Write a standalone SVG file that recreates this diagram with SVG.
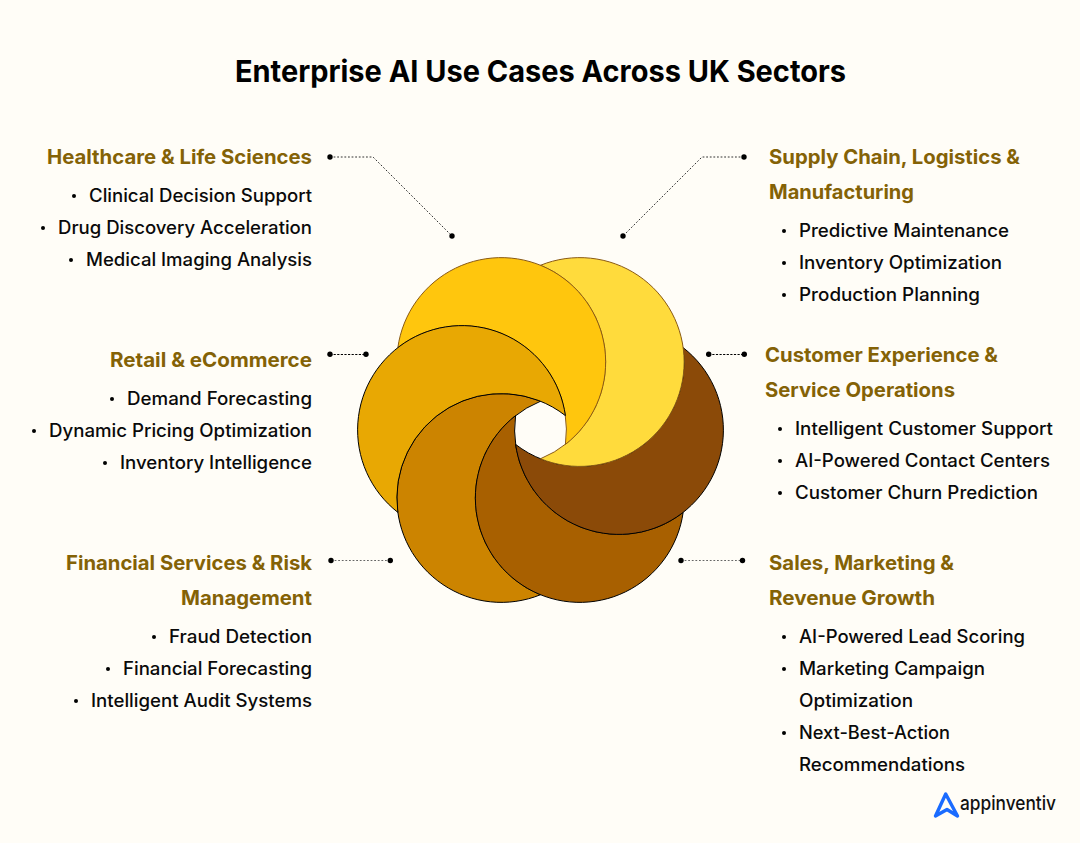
<svg xmlns="http://www.w3.org/2000/svg" width="1080" height="843" viewBox="0 0 1080 843">
<style>
text{font-family:"Inter","Liberation Sans",sans-serif}
.t{font-size:30px;font-weight:700;fill:#000}
.h{font-size:20px;font-weight:650;fill:#846206}
.b{font-size:18px;font-weight:500;fill:#0a0a0a}
.c{fill:none;stroke:#333;stroke-width:1;stroke-dasharray:1.8 1.8}
.e{stroke:#000;stroke-dasharray:2.2 1.4}
.g{stroke:#666}
.d{fill:#000}
.u{fill:#000}
.k{stroke:#000;stroke-width:1}
.n{stroke:#8a5a14;stroke-width:1}
</style>
<rect width="1080" height="843" fill="#fffdf7"/>
<text class="t" x="235" y="82" textLength="611" lengthAdjust="spacingAndGlyphs">Enterprise AI Use Cases Across UK Sectors</text>
<g id="connectors">
<path class="c" d="M330 157H373L452 236"/><circle class="d" cx="330" cy="157" r="2.7"/><circle class="d" cx="452" cy="236" r="2.7"/>
<path class="c" d="M744 157H702L623 236"/><circle class="d" cx="744" cy="157" r="2.7"/><circle class="d" cx="623" cy="236" r="2.7"/>
<path class="c e" d="M330 354.5H366"/><circle class="d" cx="330" cy="354.3" r="2.7"/><circle class="d" cx="366" cy="354.3" r="2.7"/>
<path class="c e" d="M708.7 354.5H744.3"/><circle class="d" cx="708.7" cy="354.3" r="2.7"/><circle class="d" cx="744.3" cy="354.3" r="2.7"/>
<path class="c g" d="M331 560.5H390.3"/><circle class="d" cx="331" cy="560.5" r="2.7"/><circle class="d" cx="390.3" cy="560.5" r="2.7"/>
<path class="c g" d="M681 560.5H742.5"/><circle class="d" cx="681" cy="560.5" r="2.7"/><circle class="d" cx="742.5" cy="560.5" r="2.7"/>
</g>
<g id="petal-dark-orange"><path class="k" fill="#cc8400" d="M540.5 594.72A104.4 104.4 0 1 1 540.5 401.24A104.4 104.4 0 0 0 540.5 594.72Z"/></g>
<g id="petal-amber"><path class="k" fill="#a86000" d="M683.15 512.36A104.4 104.4 0 1 1 515.59 415.62A104.4 104.4 0 0 0 683.15 512.36Z"/></g>
<g id="petal-brown"><path class="k" fill="#8b4a08" d="M683.15 347.64A104.4 104.4 0 1 1 515.59 444.38A104.4 104.4 0 0 0 683.15 347.64Z"/></g>
<g id="petal-yellow"><path class="n" fill="#ffdb3c" d="M540.5 265.28A104.4 104.4 0 1 1 540.5 458.76A104.4 104.4 0 0 0 540.5 265.28Z"/></g>
<g id="petal-gold"><path class="n" fill="#ffc60d" d="M397.85 347.64A104.4 104.4 0 1 1 565.41 444.38A104.4 104.4 0 0 0 397.85 347.64Z"/></g>
<g id="petal-orange"><path class="k" fill="#e8a803" d="M397.85 512.36A104.4 104.4 0 1 1 565.41 415.62A104.4 104.4 0 0 0 397.85 512.36Z"/></g>
<g id="healthcare">
<text class="h" x="47" y="164" textLength="265" lengthAdjust="spacingAndGlyphs">Healthcare &amp; Life Sciences</text>
<circle class="u" cx="74" cy="196" r="2"/><text class="b" x="89" y="202" textLength="223" lengthAdjust="spacingAndGlyphs">Clinical Decision Support</text>
<circle class="u" cx="43" cy="228" r="2"/><text class="b" x="58" y="234" textLength="254" lengthAdjust="spacingAndGlyphs">Drug Discovery Acceleration</text>
<circle class="u" cx="71" cy="260" r="2"/><text class="b" x="86" y="266" textLength="226" lengthAdjust="spacingAndGlyphs">Medical Imaging Analysis</text>
</g>
<g id="retail">
<text class="h" x="110" y="367" textLength="202" lengthAdjust="spacingAndGlyphs">Retail &amp; eCommerce</text>
<circle class="u" cx="112" cy="399" r="2"/><text class="b" x="127" y="405" textLength="185" lengthAdjust="spacingAndGlyphs">Demand Forecasting</text>
<circle class="u" cx="34" cy="431" r="2"/><text class="b" x="49" y="437" textLength="263" lengthAdjust="spacingAndGlyphs">Dynamic Pricing Optimization</text>
<circle class="u" cx="105" cy="463" r="2"/><text class="b" x="120" y="469" textLength="192" lengthAdjust="spacingAndGlyphs">Inventory Intelligence</text>
</g>
<g id="financial">
<text class="h" x="66" y="570" textLength="246" lengthAdjust="spacingAndGlyphs">Financial Services &amp; Risk</text>
<text class="h" x="181" y="605" textLength="131" lengthAdjust="spacingAndGlyphs">Management</text>
<circle class="u" cx="154" cy="637" r="2"/><text class="b" x="169" y="643" textLength="143" lengthAdjust="spacingAndGlyphs">Fraud Detection</text>
<circle class="u" cx="108" cy="669" r="2"/><text class="b" x="123" y="675" textLength="189" lengthAdjust="spacingAndGlyphs">Financial Forecasting</text>
<circle class="u" cx="76" cy="701" r="2"/><text class="b" x="91" y="707" textLength="221" lengthAdjust="spacingAndGlyphs">Intelligent Audit Systems</text>
</g>
<g id="supply-chain">
<text class="h" x="769" y="164" textLength="251" lengthAdjust="spacingAndGlyphs">Supply Chain, Logistics &amp;</text>
<text class="h" x="769" y="199" textLength="145" lengthAdjust="spacingAndGlyphs">Manufacturing</text>
<circle class="u" cx="784" cy="231" r="2"/><text class="b" x="799" y="237" textLength="210" lengthAdjust="spacingAndGlyphs">Predictive Maintenance</text>
<circle class="u" cx="784" cy="263" r="2"/><text class="b" x="799" y="269" textLength="203" lengthAdjust="spacingAndGlyphs">Inventory Optimization</text>
<circle class="u" cx="784" cy="295" r="2"/><text class="b" x="799" y="301" textLength="181" lengthAdjust="spacingAndGlyphs">Production Planning</text>
</g>
<g id="customer-experience">
<text class="h" x="765" y="362" textLength="233" lengthAdjust="spacingAndGlyphs">Customer Experience &amp;</text>
<text class="h" x="765" y="397" textLength="190" lengthAdjust="spacingAndGlyphs">Service Operations</text>
<circle class="u" cx="780" cy="429" r="2"/><text class="b" x="795" y="435" textLength="258" lengthAdjust="spacingAndGlyphs">Intelligent Customer Support</text>
<circle class="u" cx="780" cy="461" r="2"/><text class="b" x="795" y="467" textLength="255" lengthAdjust="spacingAndGlyphs">AI-Powered Contact Centers</text>
<circle class="u" cx="780" cy="493" r="2"/><text class="b" x="795" y="499" textLength="243" lengthAdjust="spacingAndGlyphs">Customer Churn Prediction</text>
</g>
<g id="sales">
<text class="h" x="769" y="570" textLength="185" lengthAdjust="spacingAndGlyphs">Sales, Marketing &amp;</text>
<text class="h" x="769" y="605" textLength="166" lengthAdjust="spacingAndGlyphs">Revenue Growth</text>
<circle class="u" cx="784" cy="637" r="2"/><text class="b" x="799" y="643" textLength="226" lengthAdjust="spacingAndGlyphs">AI-Powered Lead Scoring</text>
<circle class="u" cx="784" cy="669" r="2"/><text class="b" x="799" y="675" textLength="186" lengthAdjust="spacingAndGlyphs">Marketing Campaign</text>
<text class="b" x="799" y="707" textLength="114" lengthAdjust="spacingAndGlyphs">Optimization</text>
<circle class="u" cx="784" cy="733" r="2"/><text class="b" x="799" y="739" textLength="151" lengthAdjust="spacingAndGlyphs">Next-Best-Action</text>
<text class="b" x="799" y="771" textLength="166" lengthAdjust="spacingAndGlyphs">Recommendations</text>
</g>
<g id="logo">
<path d="M935.5 816L945.7 794L957.5 816L947 809.5L935.5 816" fill="none" stroke="#1a6bff" stroke-width="3.4" stroke-linejoin="round" stroke-linecap="round"/>
<text x="960" y="810" font-size="20" font-weight="500" fill="#111" textLength="96" lengthAdjust="spacingAndGlyphs">appinventiv</text>
</g>
</svg>
